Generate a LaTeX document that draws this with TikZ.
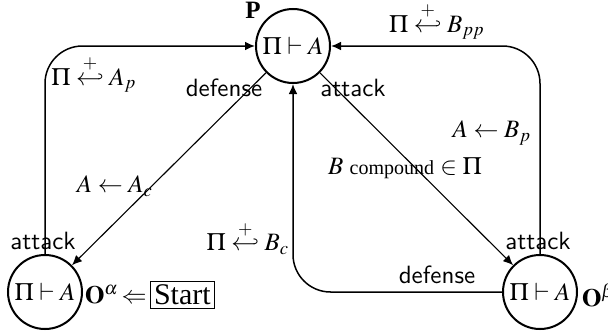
\documentclass[tikz,border=0pt]{standalone}
\usepackage{mathptmx}
\usepackage{fontspec}
\setmainfont{Liberation Serif}
\usetikzlibrary{arrows.meta}
\begin{document}
\begin{tikzpicture}[x=0.4pt,y=-0.4pt,
  state/.style={circle,draw,line width=0.8pt,minimum size=29.6pt,inner sep=0pt},
  conn/.style={line width=0.6pt,-{Latex[length=4pt,width=3.5pt]}},
  diag/.style={line width=0.45pt,-{Latex[length=4pt,width=3.5pt]}},
  lab/.style={inner sep=1pt},
  sflab/.style={inner sep=1pt,font=\sffamily}]
\useasboundingbox (0,0) rectangle (608,333);
\node[state] (P) at (293,46) {$\Pi\vdash A$};
\node[state] (Oa) at (45,292) {$\Pi\vdash A$};
\node[state] (Ob) at (540,292) {$\Pi\vdash A$};
\node[lab] (Plab) at (253,10) {\textbf{P}};
\node[lab,anchor=west] (Oalab) at (82,295) {$\mathbf{O}^{\alpha}\!\Leftarrow$};
\node[draw,inner sep=1.5pt,line width=0.5pt,font=\large,anchor=west] (start) at (Oalab.east) {Start};
\node[lab,anchor=west] (Oblab) at (579,295) {$\mathbf{O}^{\beta}$};
% edges
\draw[conn,rounded corners=15pt] (Oa.north) -- (Oa.north |- P.west) -- (P.west);
\draw[diag] (P) -- (Oa);
\draw[diag] (P) -- (Ob);
\draw[conn,rounded corners=15pt] (Ob.north) -- (Ob.north |- P.east) -- (P.east);
\draw[conn,rounded corners=15pt] (Ob.west) -- (Ob.west -| P.south) -- (P.south);
% labels
\node[lab] (l1) at (94,74) {$\Pi\stackrel{+}{\hookleftarrow}A_p$};
\node[sflab] (l2) at (43,241) {attack};
\node[sflab] (l3) at (224,88) {defense};
\node[lab] (l4) at (115,186) {$A\leftarrow A_c$};
\node[sflab] (l5) at (353,88) {attack};
\node[lab] (l6) at (405,168) {$B$ {\footnotesize compound} $\in\Pi$};
\node[lab] (l7) at (248,238) {$\Pi\stackrel{+}{\hookleftarrow}B_c$};
\node[sflab] (l8) at (437,275) {defense};
\node[sflab] (l9) at (538,241) {attack};
\node[lab] (l10) at (492,133) {$A\leftarrow B_p$};
\node[lab] (l11) at (437,21) {$\Pi\stackrel{+}{\hookleftarrow}B_{pp}$};
\end{tikzpicture}
\end{document}
